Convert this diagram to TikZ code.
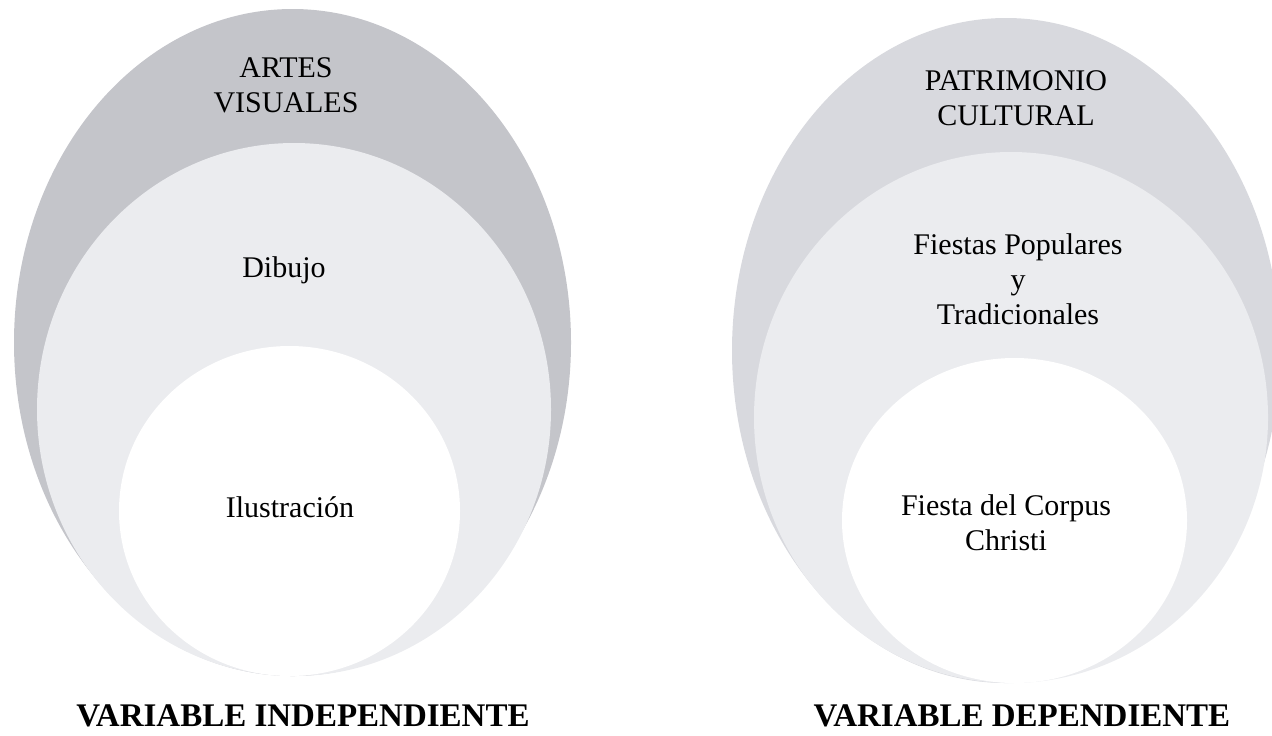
\documentclass[tikz,border=0pt]{standalone}
\usepackage{fontspec}
\setmainfont{Liberation Serif}

\definecolor{darkring}{RGB}{196,197,202}
\definecolor{lightring}{RGB}{216,217,222}
\definecolor{midring}{RGB}{235,236,239}

\tikzset{
  ringtext/.style={align=center, inner sep=0pt, font=\fontsize{15}{17.5}\selectfont},
  vartext/.style={inner sep=0pt, font=\fontsize{16.5}{20}\selectfont\bfseries}
}

\begin{document}
\begin{tikzpicture}[x=0.5pt,y=-0.5pt]
  \useasboundingbox (0,0) rectangle (1272,735);
  \clip (0,0) rectangle (1272,735);

  % left: artes visuales
  \fill [color=darkring] (292.5,342.5) ellipse (278.5 and 333.5);
  \fill [color=midring] (294,409.5) ellipse (257 and 266.5);
  \fill [color=white] (289.5,511) ellipse (170.5 and 165);

  \node [ringtext] (artes) at (286,85) {ARTES\\VISUALES};
  \node [ringtext] (dibujo) at (284,270) {Dibujo};
  \node [ringtext] (ilustracion) at (290,507) {Ilustración};
  \node [vartext] (varind) at (303,716) {VARIABLE INDEPENDIENTE};

  % right: patrimonio cultural
  \fill [color=lightring] (1006,350.5) ellipse (274 and 332.5);
  \fill [color=midring] (1011,417.5) ellipse (257 and 265.5);
  \fill [color=white] (1014.5,520.5) ellipse (172.5 and 162.5);

  \node [ringtext] (patrimonio) at (1016,98) {PATRIMONIO\\CULTURAL};
  \node [ringtext] (fiestas) at (1018,279) {Fiestas Populares\\y\\ Tradicionales};
  \node [ringtext] (corpus) at (1006,523) {Fiesta del Corpus\\Christi};
  \node [vartext] (vardep) at (1022,716) {VARIABLE DEPENDIENTE};

\end{tikzpicture}
\end{document}
